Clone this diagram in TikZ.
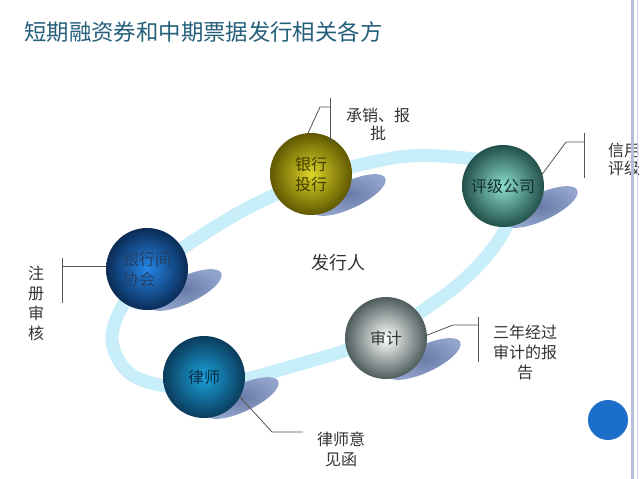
\documentclass[tikz,border=0pt]{standalone}
\usepackage{fontspec}
\setmainfont{Noto Sans CJK SC}
\usepackage{xcolor}
\definecolor{lblue}{RGB}{200,238,249}
\definecolor{sgray}{RGB}{104,124,168}
\definecolor{sgrayl}{RGB}{146,164,204}
\definecolor{lead}{RGB}{85,85,85}
\definecolor{ttl}{RGB}{36,95,122}
\definecolor{rim}{RGB}{184,191,219}
\definecolor{dot}{RGB}{27,111,203}
\definecolor{yelin}{RGB}{222,214,40}
\definecolor{yelout}{RGB}{96,88,0}
\definecolor{tealin}{RGB}{140,222,208}
\definecolor{tealout}{RGB}{34,80,74}
\definecolor{bluein}{RGB}{38,134,232}
\definecolor{blueout}{RGB}{10,44,86}
\definecolor{cyanin}{RGB}{28,162,220}
\definecolor{cyanout}{RGB}{10,60,92}
\definecolor{grayin}{RGB}{255,255,255}
\definecolor{grayout}{RGB}{78,92,92}
\usetikzlibrary{positioning, calc, shapes.geometric}

\tikzstyle{Ball} = [
circle,
minimum size=82pt,
inner sep=0pt,
align=center,
font=\fontsize{16}{20}\selectfont]
\tikzstyle{Shadow} = [
ellipse,
minimum width=80pt,
minimum height=27pt,
inner sep=0pt,
rotate=25,
inner color=sgray,
outer color=sgrayl]
\tikzstyle{Leader} = [
line width=0.8pt,
lead]
\tikzstyle{Note} = [
inner sep=0pt,
align=center,
text=black!80,
font=\fontsize{16}{20}\selectfont]
\tikzstyle{Ring} = [
line width=13pt,
lblue]

\begin{document}
\begin{tikzpicture}[x=1pt, y=-1pt]
    \useasboundingbox (0,0) rectangle (640,479);
    \fill[white] (0,0) rectangle (640,479);

    \draw[Ring] plot[smooth cycle, tension=0.6] coordinates {
        (112,340) (128,372) (165,386) (210,386) (250,378) (300,364)
        (350,349) (390,333) (425,309) (460,283) (490,252) (508,222)
        (512,190) (495,166) (465,158) (410,156) (355,166) (310,180)
        (270,197) (235,215) (190,243) (150,272) (123,305)};

    \node[Shadow] (s1) at (349,195) {};
    \node[Shadow] (s2) at (541,207) {};
    \node[Shadow] (s3) at (185,290) {};
    \node[Shadow] (s4) at (242,398) {};
    \node[Shadow] (s5) at (424,359) {};

    \node[Ball, inner color=yelin, outer color=yelout, text=yelout!70!black] (1) at (311,174) {银行\\投行};
    \node[Ball, inner color=tealin, outer color=tealout, text=tealout!60!black] (2) at (503,186) {评级公司};
    \node[Ball, inner color=bluein, outer color=blueout, text=blueout!90!white, align=left] (3) at (147,269) {银行间\\协会};
    \node[Ball, inner color=cyanin, outer color=cyanout, text=cyanout!80!black] (4) at (204,377) {律师};
    \node[Ball, inner color=grayin, outer color=grayout, text=grayout!60!black] (5) at (386,338) {审计};
    \node[Note, font=\fontsize{18}{22}\selectfont] (6) at (338,263) {发行人};

    \node[Note, font=\fontsize{16}{18}\selectfont] (7) at (378,124) {承销、报\\批};
    \node[Note, font=\fontsize{16}{18}\selectfont, align=left, anchor=west] (8) at (608,159) {信用\\评级};
    \node[Note] (9) at (36,303) {注\\册\\审\\核};
    \node[Note] (10) at (341,449) {律师意\\见函};
    \node[Note] (11) at (525,352) {三年经过\\审计的报\\告};

    \coordinate (k1) at (320,107);
    \coordinate (b1) at (330,98);
    \coordinate (e1) at (330,143);
    \coordinate (k2) at (566,142);
    \coordinate (b2) at (584,133);
    \coordinate (e2) at (584,178);
    \coordinate (b3) at (62,258);
    \coordinate (e3) at (62,303);
    \coordinate (k4) at (272,432);
    \coordinate (e4) at (303,432);
    \coordinate (k5) at (453,325);
    \coordinate (b5) at (478,317);
    \coordinate (e5) at (478,362);

    \draw[Leader] (1.94) -- (k1) -- (k1 -| b1);
    \draw[Leader] (b1) -- (e1);
    \draw[Leader, shorten <=-6pt] (2.17) -- (k2) -- (k2 -| b2);
    \draw[Leader] (b2) -- (e2);
    \draw[Leader] (3.176) -- (3.176 -| b3);
    \draw[Leader] (b3) -- (e3);
    \draw[Leader] (4.-29) -- (k4) -- (e4);
    \draw[Leader, shorten <=-3pt] (5.4) -- (k5) -- (k5 -| b5);
    \draw[Leader] (b5) -- (e5);

    \node[anchor=west, inner sep=0pt, text=ttl, font=\fontsize{22.4}{26}\selectfont] (0) at (24,32) {短期融资券和中期票据发行相关各方};

    \node[circle, fill=dot, minimum size=40pt, inner sep=0pt] (12) at (608,420) {};
    \coordinate (r1) at (632.5,0);
    \coordinate (r2) at (632.5,479);
    \coordinate (r3) at (637.5,0);
    \coordinate (r4) at (637.5,479);
    \draw[rim, line width=2.5pt] (r1) -- (r2);
    \draw[rim!70!white, line width=1.2pt] (r3) -- (r4);
\end{tikzpicture}
\end{document}
